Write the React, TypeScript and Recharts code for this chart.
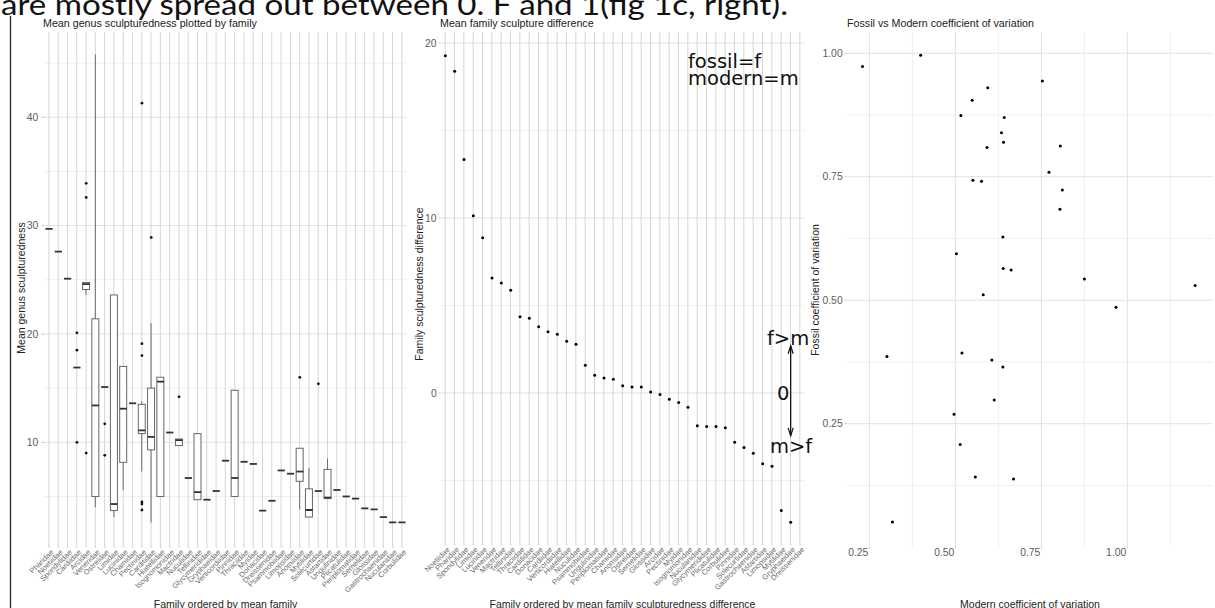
import React from "react";
import {
  ComposedChart,
  ScatterChart,
  Scatter,
  Bar,
  Line,
  XAxis,
  YAxis,
  CartesianGrid,
  ReferenceLine,
} from "recharts";

// ---- left panel: genus sculpturedness per family, ordered by family mean ----
const familiesByMean = [
  "Pharidae", "Noetiidae", "Spondylidae", "Cardiidae", "Arcidae", "Veneridae", "Ostreidae",
  "Limidae", "Lucinidae", "Chamidae", "Pectinidae", "Carditidae", "Hiatellidae", "Isognomonidae",
  "Mactridae", "Nuculidae", "Tellinidae", "Glycymerididae", "Gryphaeidae", "Verticordiidae",
  "Pinnidae", "Thraciidae", "Myidae", "Donacidae", "Dreissenidae", "Psammobiidae", "Limopsidae",
  "Anomiidae", "Mytilidae", "Solecurtidae", "Astartidae", "Ungulinidae", "Plicatulidae",
  "Periplomatidae", "Semelidae", "Glossidae", "Gastrochaenidae", "Nuculanidae", "Corbulidae",
];

const whiskerLow = [
  29.7, 27.6, 25.1, 16.9, 23.6, 4.0, 15.1, 3.1, 5.6, 13.6, 7.3, 2.6, 5.0, 10.9, 9.7, 6.7, 4.7,
  4.7, 5.5, 8.3, 5.0, 8.2, 8.0, 3.7, 4.6, 7.4, 7.1, 3.8, 3.1, 5.5, 4.8, 5.6, 5.0, 4.8, 3.9, 3.8,
  3.1, 2.6, 2.6,
];
const boxLow = [
  29.7, 27.6, 25.1, 16.9, 24.1, 5.0, 15.1, 3.7, 8.15, 13.6, 10.8, 9.3, 5.0, 10.9, 9.7, 6.7, 4.7,
  4.7, 5.5, 8.3, 5.0, 8.2, 8.0, 3.7, 4.6, 7.4, 7.1, 6.4, 3.1, 5.5, 4.8, 5.6, 5.0, 4.8, 3.9, 3.8,
  3.1, 2.6, 2.6,
];
const boxMedian = [
  29.7, 27.6, 25.1, 16.9, 24.6, 13.4, 15.1, 4.3, 13.1, 13.6, 11.1, 10.5, 15.6, 10.9, 10.2, 6.7,
  5.4, 4.7, 5.5, 8.3, 6.7, 8.2, 8.0, 3.7, 4.6, 7.4, 7.1, 7.3, 3.75, 5.5, 4.9, 5.6, 5.0, 4.8, 3.9,
  3.8, 3.1, 2.6, 2.6,
];
const boxHigh = [
  29.7, 27.6, 25.1, 16.9, 24.75, 21.4, 15.1, 23.6, 17.0, 13.6, 13.5, 15.0, 16.0, 10.9, 10.3, 6.7,
  10.8, 4.7, 5.5, 8.3, 14.8, 8.2, 8.0, 3.7, 4.6, 7.4, 7.1, 9.45, 5.7, 5.5, 7.5, 5.6, 5.0, 4.8, 3.9,
  3.8, 3.1, 2.6, 2.6,
];
const whiskerHigh = [
  29.7, 27.6, 25.1, 16.9, 24.75, 45.8, 15.1, 23.6, 17.0, 13.6, 13.8, 21.0, 16.0, 10.9, 10.3, 6.7,
  10.8, 4.7, 5.5, 8.3, 14.8, 8.2, 8.0, 3.7, 4.6, 7.4, 7.1, 9.45, 7.6, 5.5, 8.5, 5.6, 5.0, 4.8, 3.9,
  3.8, 3.1, 2.6, 2.6,
];
const outlierPoints: [string, number][] = [
  ["Cardiidae", 20.1], ["Cardiidae", 18.5], ["Cardiidae", 10.0],
  ["Arcidae", 33.9], ["Arcidae", 32.6], ["Arcidae", 9.0],
  ["Ostreidae", 11.7], ["Ostreidae", 8.8],
  ["Pectinidae", 41.3], ["Pectinidae", 19.1], ["Pectinidae", 18.0],
  ["Pectinidae", 4.5], ["Pectinidae", 4.3], ["Pectinidae", 3.75],
  ["Carditidae", 28.9],
  ["Mactridae", 14.2],
  ["Anomiidae", 16.0],
  ["Solecurtidae", 15.4],
];
const sculptTicks = [10, 20, 30, 40];
const sculptMinor = [5, 15, 25, 35, 45];

// ---- middle panel: fossil minus modern family sculpturedness ----
const familiesByDiff = [
  "Noetiidae", "Pharidae", "Spondylidae", "Limidae", "Lucinidae", "Veneridae", "Mactridae",
  "Tellinidae", "Thraciidae", "Carditidae", "Donacidae", "Cardiidae", "Verticordiidae",
  "Hiatellidae", "Nuculidae", "Psammobiidae", "Ungulinidae", "Periplomatidae", "Chamidae",
  "Anomiidae", "Ostreidae", "Semelidae", "Glossidae", "Arcidae", "Pectinidae", "Myidae",
  "Isognomonidae", "Nuculanidae", "Glycymerididae", "Plicatulidae", "Corbulidae", "Pinnidae",
  "Solecurtidae", "Gastrochaenidae", "Astartidae", "Limopsidae", "Mytilidae", "Gryphaeidae",
  "Dreissenidae",
];
const sculptDiff: (number | null)[] = [
  19.27, 18.38, 13.35, 10.13, 8.87, 6.57, 6.29, 5.87, 4.36, 4.27, 3.79, 3.5, 3.35, 2.95, 2.78,
  1.58, 1.01, 0.86, 0.78, 0.42, 0.34, 0.34, 0.06, -0.08, -0.36, -0.55, -0.82, -1.87, -1.92,
  -1.92, -1.98, -2.82, -3.12, -3.45, -4.04, -4.19, -6.72, -7.39, null,
];
const diffTicks = [0, 10, 20];
const diffMinor = [-5, 5, 15];

// ---- right panel: coefficient of variation, modern vs fossil ----
const modernCV = [
  0.23, 0.399, 0.753, 0.594, 0.549, 0.516, 0.642, 0.634, 0.64, 0.592, 0.805, 0.772, 0.551,
  0.576, 0.811, 0.804, 0.638, 0.503, 0.639, 0.662, 0.875, 1.197, 0.581, 0.967, 0.301, 0.519,
  0.606, 0.638, 0.613, 0.496, 0.514, 0.558, 0.669, 0.317,
];
const fossilCV = [
  0.973, 0.996, 0.944, 0.93, 0.905, 0.874, 0.87, 0.839, 0.82, 0.809, 0.812, 0.759, 0.743,
  0.741, 0.723, 0.684, 0.628, 0.594, 0.564, 0.561, 0.543, 0.53, 0.511, 0.486, 0.386, 0.393,
  0.379, 0.365, 0.298, 0.269, 0.208, 0.142, 0.138, 0.051,
];
const cvTicks = [0.25, 0.5, 0.75, 1.0];
const cvMinorX = [0.375, 0.625, 0.875, 1.125];
const cvMinorY = [0.125, 0.375, 0.625, 0.875];

const outlierKeys = ["out0", "out1", "out2", "out3", "out4", "out5"];

const boxRows = familiesByMean.map((family, i) => {
  const row: Record<string, any> = {
    family,
    whisker: [whiskerLow[i], whiskerHigh[i]],
    box: [boxLow[i], boxHigh[i]],
    median: boxMedian[i],
  };
  const outs = outlierPoints.filter(([f]) => f === family).map(([, v]) => v);
  outlierKeys.forEach((k, j) => {
    row[k] = outs[j] ?? null;
  });
  return row;
});

const diffRows = familiesByDiff.map((family, i) => ({ family, diff: sculptDiff[i] }));

const cvRows = modernCV.map((modern, i) => ({ modern, fossil: fossilCV[i] }));

const FONT = '"Liberation Sans", Arial, Helvetica, sans-serif';
const axisText = { fontSize: 10.4, fill: "#5c5c5c", fontFamily: FONT };
const BOX_HALF = 3.6;

// rotated family names under the category axes
const SlantTick = (props: any) => {
  const { x, y, payload } = props;
  const ax = x + 1;
  return (
    <text
      x={ax}
      y={y}
      dy="0.72em"
      textAnchor="end"
      transform={`rotate(-45 ${ax} ${y})`}
      fontSize={7.5}
      fill="#6a6a6a"
      fontFamily={FONT}
    >
      {payload.value}
    </text>
  );
};

// x labels of the scatter sit just left of their tick
const CvTick = (props: any) => {
  const { x, y, payload } = props;
  return (
    <text x={x - 1} y={y} dy="0.71em" textAnchor="end" {...axisText}>
      {Number(payload.value).toFixed(2)}
    </text>
  );
};

// vertical grid line through the middle of every category band
const bandGridLine = (p: any) => (
  <line
    key={`grid-${p.index}`}
    x1={p.x + p.width / 2}
    x2={p.x + p.width / 2}
    y1={p.y}
    y2={p.y + p.height}
    stroke="#d6d6d6"
    strokeWidth={1}
  />
);

const whiskerShape = (p: any) => (
  <line
    x1={p.x + p.width / 2}
    x2={p.x + p.width / 2}
    y1={p.y}
    y2={p.y + p.height}
    stroke="#6e6e6e"
    strokeWidth={1}
  />
);

const boxShape = (p: any) => (
  <rect x={p.x} y={p.y} width={p.width} height={Math.max(p.height, 0)} fill="#fff" stroke="#666" strokeWidth={1} />
);

const medianDot = (p: any) =>
  p.cy == null ? (
    <g key={`med-${p.index}`} />
  ) : (
    <line
      key={`med-${p.index}`}
      x1={p.cx - BOX_HALF}
      x2={p.cx + BOX_HALF}
      y1={p.cy}
      y2={p.cy}
      stroke="#333"
      strokeWidth={1.8}
    />
  );

const emptyShape = () => <g />;

// double-headed arrow for the f>m / m>f annotation
const arrowShape = (p: any) => {
  const { x1, y1, x2, y2 } = p;
  return (
    <g>
      <line x1={x1} y1={y1} x2={x2} y2={y2} stroke="#111" strokeWidth={1.3} />
      <path d={`M${x1 - 2.5},${y1 + 8} L${x1},${y1} L${x1 + 2.5},${y1 + 8}`} fill="none" stroke="#111" strokeWidth={1.2} />
      <path d={`M${x2 - 2.5},${y2 - 8} L${x2},${y2} L${x2 + 2.5},${y2 - 8}`} fill="none" stroke="#111" strokeWidth={1.2} />
    </g>
  );
};

const scatterDot = (p: any) => <circle cx={p.cx} cy={p.cy} r={1.5} fill="#000" />;

const titleStyle = { fontSize: 10.7, fill: "#222", fontFamily: FONT };
const axisTitle = { fontSize: 10.5, fill: "#222", fontFamily: FONT };
const noteFont = '"DejaVu Sans", Verdana, sans-serif';

export default function App() {
  return (
    <div
      style={{
        position: "absolute",
        left: 0,
        top: 0,
        width: 1215,
        height: 608,
        overflow: "hidden",
        background: "#fff",
      }}
    >
      {/* left: box plots */}
      <div style={{ position: "absolute", left: 0, top: 0 }}>
        <ComposedChart width={410} height={608} data={boxRows} margin={{ top: 32, right: 3.4, bottom: 0, left: 0 }}>
          <CartesianGrid vertical={false} horizontalValues={sculptMinor} stroke="#f0f0f0" />
          <CartesianGrid vertical={false} horizontalValues={sculptTicks} stroke="#e2e2e2" />
          <XAxis
            dataKey="family"
            interval={0}
            height={62.3}
            tickSize={2}
            tickMargin={1}
            axisLine={false}
            tickLine={{ stroke: "#c8c8c8" }}
            tick={SlantTick}
          />
          <XAxis xAxisId="box" dataKey="family" hide />
          <YAxis
            type="number"
            domain={[0.455, 47.87]}
            ticks={sculptTicks}
            allowDataOverflow
            width={44.4}
            tickSize={3}
            tickMargin={3}
            axisLine={false}
            tickLine={{ stroke: "#c8c8c8" }}
            tick={axisText}
          />
          <Bar dataKey="whisker" barSize={7} isAnimationActive={false} background={bandGridLine} shape={whiskerShape} />
          <Bar xAxisId="box" dataKey="box" barSize={7} isAnimationActive={false} shape={boxShape} />
          <Line dataKey="median" stroke="none" dot={medianDot} activeDot={false} isAnimationActive={false} />
          {outlierKeys.map((k) => (
            <Line
              key={k}
              dataKey={k}
              stroke="none"
              dot={{ r: 1.4, fill: "#111", stroke: "none" }}
              activeDot={false}
              isAnimationActive={false}
            />
          ))}
        </ComposedChart>
      </div>

      {/* middle: ordered differences */}
      <div style={{ position: "absolute", left: 410, top: 0 }}>
        <ComposedChart width={400} height={608} data={diffRows} margin={{ top: 32, right: 5.33, bottom: 0, left: 0 }}>
          <CartesianGrid vertical={false} horizontalValues={diffMinor} stroke="#f0f0f0" />
          <CartesianGrid vertical={false} horizontalValues={diffTicks} stroke="#e2e2e2" />
          <XAxis
            dataKey="family"
            interval={0}
            height={64.7}
            tickSize={2}
            tickMargin={1}
            axisLine={false}
            tickLine={{ stroke: "#c8c8c8" }}
            tick={SlantTick}
          />
          <YAxis
            type="number"
            domain={[-8.59, 20.63]}
            ticks={diffTicks}
            allowDataOverflow
            width={30.67}
            tickSize={2}
            tickMargin={2}
            axisLine={false}
            tickLine={{ stroke: "#c8c8c8" }}
            tick={axisText}
          />
          <Bar dataKey={() => 0} barSize={1} isAnimationActive={false} background={bandGridLine} shape={emptyShape} />
          <Line
            dataKey="diff"
            stroke="none"
            dot={{ r: 1.5, fill: "#000", stroke: "none" }}
            activeDot={false}
            isAnimationActive={false}
          />
          <ReferenceLine
            segment={[
              { x: "Gryphaeidae", y: 2.7 },
              { x: "Gryphaeidae", y: -2.45 },
            ]}
            shape={arrowShape}
          />
        </ComposedChart>
      </div>

      {/* right: coefficient of variation scatter */}
      <div style={{ position: "absolute", left: 810, top: 0 }}>
        <ScatterChart width={405} height={608} margin={{ top: 32, right: 2, bottom: 0, left: 0 }}>
          <CartesianGrid horizontalValues={cvMinorY} verticalValues={cvMinorX} stroke="#f0f0f0" />
          <CartesianGrid horizontalValues={cvTicks} verticalValues={cvTicks} stroke="#e2e2e2" />
          <XAxis
            type="number"
            dataKey="modern"
            domain={[0.184, 1.249]}
            ticks={cvTicks}
            allowDataOverflow
            height={61.3}
            tickSize={2}
            tickMargin={0}
            axisLine={false}
            tickLine={{ stroke: "#c8c8c8" }}
            tick={CvTick}
          />
          <YAxis
            type="number"
            dataKey="fossil"
            domain={[0.001, 1.043]}
            ticks={cvTicks}
            allowDataOverflow
            width={36.7}
            tickSize={2}
            tickMargin={2}
            axisLine={false}
            tickLine={{ stroke: "#c8c8c8" }}
            tick={axisText}
            tickFormatter={(v: number) => v.toFixed(2)}
          />
          <Scatter data={cvRows} isAnimationActive={false} shape={scatterDot} />
        </ScatterChart>
      </div>

      {/* titles, axis titles and notes */}
      <svg
        width={1215}
        height={608}
        style={{ position: "absolute", left: 0, top: 0, pointerEvents: "none" }}
      >
        <text
          x={1}
          y={15}
          fontFamily='Lato, "Open Sans", sans-serif'
          fontSize={28}
          fill="#111"
          textLength={787}
          lengthAdjust="spacingAndGlyphs"
        >
          are mostly spread out between 0. F and 1(fig 1c, right).
        </text>
        <line x1={10.5} y1={16} x2={10.5} y2={608} stroke="#2a2a2a" strokeWidth={1.3} />

        <text x={43} y={27} {...titleStyle}>Mean genus sculpturedness plotted by family</text>
        <text x={440} y={27} {...titleStyle}>Mean family sculpture difference</text>
        <text x={847} y={27} {...titleStyle}>Fossil vs Modern coefficient of variation</text>

        <text x={21.5} y={288} dy="0.35em" textAnchor="middle" transform="rotate(-90 21.5 288)" {...axisTitle}>
          Mean genus sculpturedness
        </text>
        <text x={419} y={284} dy="0.35em" textAnchor="middle" transform="rotate(-90 419 284)" {...axisTitle}>
          Family sculpturedness difference
        </text>
        <text x={815} y={290} dy="0.35em" textAnchor="middle" transform="rotate(-90 815 290)" {...axisTitle}>
          Fossil coefficient of variation
        </text>

        <text x={225.5} y={607.5} textAnchor="middle" {...axisTitle}>Family ordered by mean family</text>
        <text x={622.5} y={607.5} textAnchor="middle" {...axisTitle}>
          Family ordered by mean family sculpturedness difference
        </text>
        <text x={1030} y={607.5} textAnchor="middle" {...axisTitle}>Modern coefficient of variation</text>

        <text x={688} y={68} fontFamily={noteFont} fontSize={19.5} fill="#111">fossil=f</text>
        <text x={688} y={85} fontFamily={noteFont} fontSize={19.5} fill="#111">modern=m</text>
        <text x={767} y={345} fontFamily={noteFont} fontSize={19.5} fill="#111">f&gt;m</text>
        <text x={777} y={400} fontFamily={noteFont} fontSize={19.5} fill="#111">0</text>
        <text x={770} y={453} fontFamily={noteFont} fontSize={19.5} fill="#111">m&gt;f</text>
      </svg>
    </div>
  );
}
